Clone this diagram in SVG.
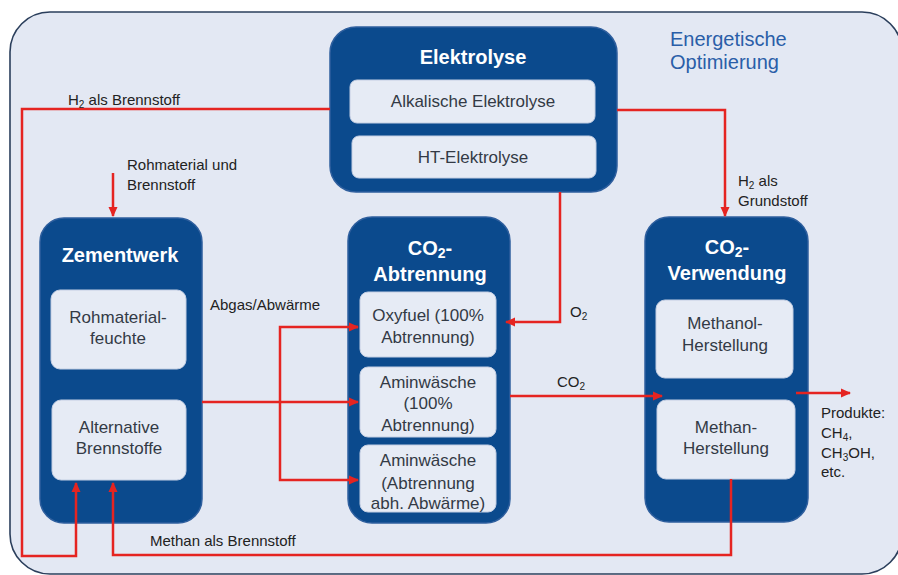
<svg xmlns="http://www.w3.org/2000/svg" width="898" height="575" viewBox="0 0 898 575">
<style>
.bg{fill:#e3e8f3;stroke:#2b3f5c;stroke-width:1.6}
.node{fill:#0b4a8d;stroke:#2f5f9e;stroke-width:1.5}
.inner{fill:#e6ebf5;stroke:#c3cee3;stroke-width:1}
.title{font-family:"Liberation Sans",Arial,sans-serif;font-weight:bold;font-size:20px;fill:#ffffff;text-anchor:middle}
.in{font-family:"Liberation Sans",Arial,sans-serif;font-size:17px;fill:#333a45;text-anchor:middle}
.lbl{font-family:"Liberation Sans",Arial,sans-serif;font-size:15px;fill:#222222}
.opt{font-family:"Liberation Sans",Arial,sans-serif;font-size:20px;fill:#2a5ea8}
.con{fill:none;stroke:#e52421;stroke-width:2.5}
</style>
<defs>
<marker id="ah" markerUnits="userSpaceOnUse" markerWidth="10" markerHeight="10" viewBox="0 0 10 10" refX="9" refY="5" orient="auto">
<path d="M0,0.5 L10,5 L0,9.5 Z" fill="#e52421"/>
</marker>
</defs>
<rect x="0" y="0" width="898" height="575" fill="#ffffff"/>
<rect class="bg" x="10" y="12" width="892" height="562" rx="40" ry="40"/>
<text class="opt" x="670" y="46">Energetische</text>
<text class="opt" x="670" y="69">Optimierung</text>

<g id="elektrolyse">
<rect class="node" x="330" y="27" width="287" height="165" rx="26"/>
<text class="title" x="473" y="64">Elektrolyse</text>
<rect class="inner" x="350" y="80" width="245" height="43" rx="7"/>
<text class="in" x="473" y="107">Alkalische Elektrolyse</text>
<rect class="inner" x="352" y="136" width="244" height="42" rx="7"/>
<text class="in" x="473" y="163">HT-Elektrolyse</text>
</g>

<g id="zementwerk">
<rect class="node" x="40" y="218" width="162" height="305" rx="24"/>
<text class="title" x="120" y="262">Zementwerk</text>
<rect class="inner" x="51" y="290" width="135" height="79" rx="9"/>
<text class="in" x="118" y="323">Rohmaterial-</text>
<text class="in" x="118" y="344">feuchte</text>
<rect class="inner" x="52" y="400" width="134" height="80" rx="9"/>
<text class="in" x="119" y="433">Alternative</text>
<text class="in" x="119" y="454">Brennstoffe</text>
</g>

<g id="co2-abtrennung">
<rect class="node" x="348" y="217" width="162" height="306" rx="24"/>
<text class="title" x="430" y="255">CO<tspan font-size="14" dy="3">2</tspan><tspan dy="-3">-</tspan></text>
<text class="title" x="430" y="281">Abtrennung</text>
<rect class="inner" x="360" y="292" width="136" height="65" rx="8"/>
<text class="in" x="428" y="321">Oxyfuel  (100%</text>
<text class="in" x="428" y="343">Abtrennung)</text>
<rect class="inner" x="360" y="367" width="136" height="70" rx="8"/>
<text class="in" x="428" y="388">Aminwäsche</text>
<text class="in" x="428" y="409">(100%</text>
<text class="in" x="428" y="431">Abtrennung)</text>
<rect class="inner" x="360" y="445" width="136" height="67" rx="8"/>
<text class="in" x="428" y="466">Aminwäsche</text>
<text class="in" x="428" y="489">(Abtrennung</text>
<text class="in" x="428" y="509">abh. Abwärme)</text>
</g>

<g id="co2-verwendung">
<rect class="node" x="645" y="217" width="163" height="305" rx="24"/>
<text class="title" x="727" y="254">CO<tspan font-size="14" dy="3">2</tspan><tspan dy="-3">-</tspan></text>
<text class="title" x="727" y="280">Verwendung</text>
<rect class="inner" x="656" y="300" width="137" height="78" rx="9"/>
<text class="in" x="725" y="329">Methanol-</text>
<text class="in" x="725" y="351">Herstellung</text>
<rect class="inner" x="657" y="400" width="138" height="79" rx="9"/>
<text class="in" x="726" y="433">Methan-</text>
<text class="in" x="726" y="454">Herstellung</text>
</g>

<g id="connectors">
<polyline class="con" points="330,109 22,109 22,556 76,556 76,483" marker-end="url(#ah)"/>
<polyline class="con" points="617,110 725,110 725,216" marker-end="url(#ah)"/>
<polyline class="con" points="113,173 113,216" marker-end="url(#ah)"/>
<polyline class="con" points="560,192 560,322 506,322" marker-end="url(#ah)"/>
<polyline class="con" points="202,402 358,402" marker-end="url(#ah)"/>
<polyline class="con" points="358,327 280,327 280,480 358,480" marker-end="url(#ah)"/>
<path class="con" d="M350,327 L358,327" marker-end="url(#ah)"/>
<polyline class="con" points="510,396 662,396" marker-end="url(#ah)"/>
<polyline class="con" points="796,393 850,393" marker-end="url(#ah)"/>
<polyline class="con" points="731,479 731,555 113,555 113,483" marker-end="url(#ah)"/>
<text class="lbl" x="68" y="105">H<tspan font-size="10" dy="3">2</tspan><tspan dy="-3"> als Brennstoff</tspan></text>
<text class="lbl" x="127" y="170">Rohmaterial und</text>
<text class="lbl" x="127" y="190">Brennstoff</text>
<text class="lbl" x="210" y="310">Abgas/Abwärme</text>
<text class="lbl" x="570" y="317">O<tspan font-size="10" dy="3">2</tspan></text>
<text class="lbl" x="557" y="387">CO<tspan font-size="10" dy="3">2</tspan></text>
<text class="lbl" x="738" y="186">H<tspan font-size="10" dy="3">2</tspan><tspan dy="-3"> als</tspan></text>
<text class="lbl" x="738" y="206">Grundstoff</text>
<text class="lbl" x="821" y="418">Produkte:</text>
<text class="lbl" x="821" y="438">CH<tspan font-size="10" dy="3">4</tspan><tspan dy="-3">,</tspan></text>
<text class="lbl" x="821" y="458">CH<tspan font-size="10" dy="3">3</tspan><tspan dy="-3">OH,</tspan></text>
<text class="lbl" x="821" y="477">etc.</text>
<text class="lbl" x="150" y="546">Methan als Brennstoff</text>
</g>
</svg>
